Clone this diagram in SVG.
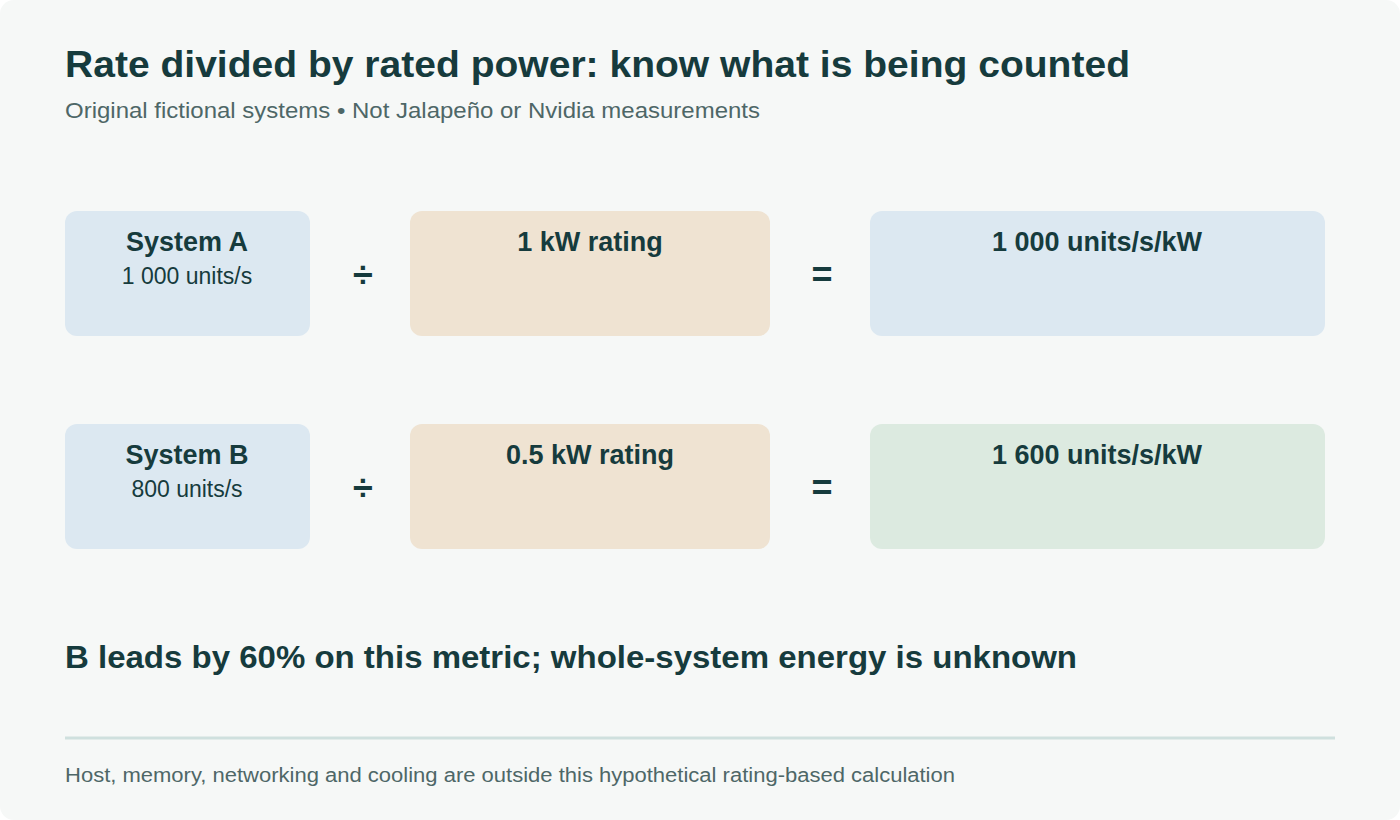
<svg xmlns="http://www.w3.org/2000/svg" width="1400" height="820" viewBox="0 0 1400 820">
<style>
text{font-family:"Liberation Sans",Arial,sans-serif;fill:#163b3d}
.t{font-size:37px;font-weight:700}
.s{font-size:22px;fill:#4e6767}
.h{font-size:27px;font-weight:700;text-anchor:middle}
.v{font-size:23px;text-anchor:middle}
.op{font-size:36px;font-weight:700;text-anchor:middle}
.blue{fill:#dce8f1}.tan{fill:#efe3d2}.green{fill:#dceae0}
</style>
<rect width="1400" height="820" rx="14" fill="#f6f8f7"/>
<text class="t" x="65" y="77" textLength="1065" lengthAdjust="spacingAndGlyphs">Rate divided by rated power: know what is being counted</text>
<text class="s" x="65" y="118" textLength="695" lengthAdjust="spacingAndGlyphs">Original fictional systems • Not Jalapeño or Nvidia measurements</text>
<g id="sysA"><rect class="blue" x="65" y="211" width="245" height="125" rx="12"/><text class="h" x="187" y="251">System A</text><text class="v" x="187" y="284">1 000 units/s</text></g>
<g id="ratingA"><rect class="tan" x="410" y="211" width="360" height="125" rx="12"/><text class="h" x="590" y="251">1 kW rating</text></g>
<g id="resultA"><rect class="blue" x="870" y="211" width="455" height="125" rx="12"/><text class="h" x="1097" y="251">1 000 units/s/kW</text></g>
<g id="sysB"><rect class="blue" x="65" y="424" width="245" height="125" rx="12"/><text class="h" x="187" y="464">System B</text><text class="v" x="187" y="497">800 units/s</text></g>
<g id="ratingB"><rect class="tan" x="410" y="424" width="360" height="125" rx="12"/><text class="h" x="590" y="464">0.5 kW rating</text></g>
<g id="resultB"><rect class="green" x="870" y="424" width="455" height="125" rx="12"/><text class="h" x="1097" y="464">1 600 units/s/kW</text></g>
<g id="connectors">
<text class="op" x="363" y="287">÷</text><text class="op" x="822" y="287">=</text>
<text class="op" x="363" y="500">÷</text><text class="op" x="822" y="500">=</text>
</g>
<text x="65" y="668" textLength="1012" lengthAdjust="spacingAndGlyphs" style="font-size:32px;font-weight:700">B leads by 60% on this metric; whole-system energy is unknown</text>
<line x1="65" y1="738" x2="1335" y2="738" stroke="#cfe0de" stroke-width="3"/>
<text x="65" y="782" textLength="890" lengthAdjust="spacingAndGlyphs" style="font-size:20px;fill:#4e6767">Host, memory, networking and cooling are outside this hypothetical rating-based calculation</text>
</svg>
